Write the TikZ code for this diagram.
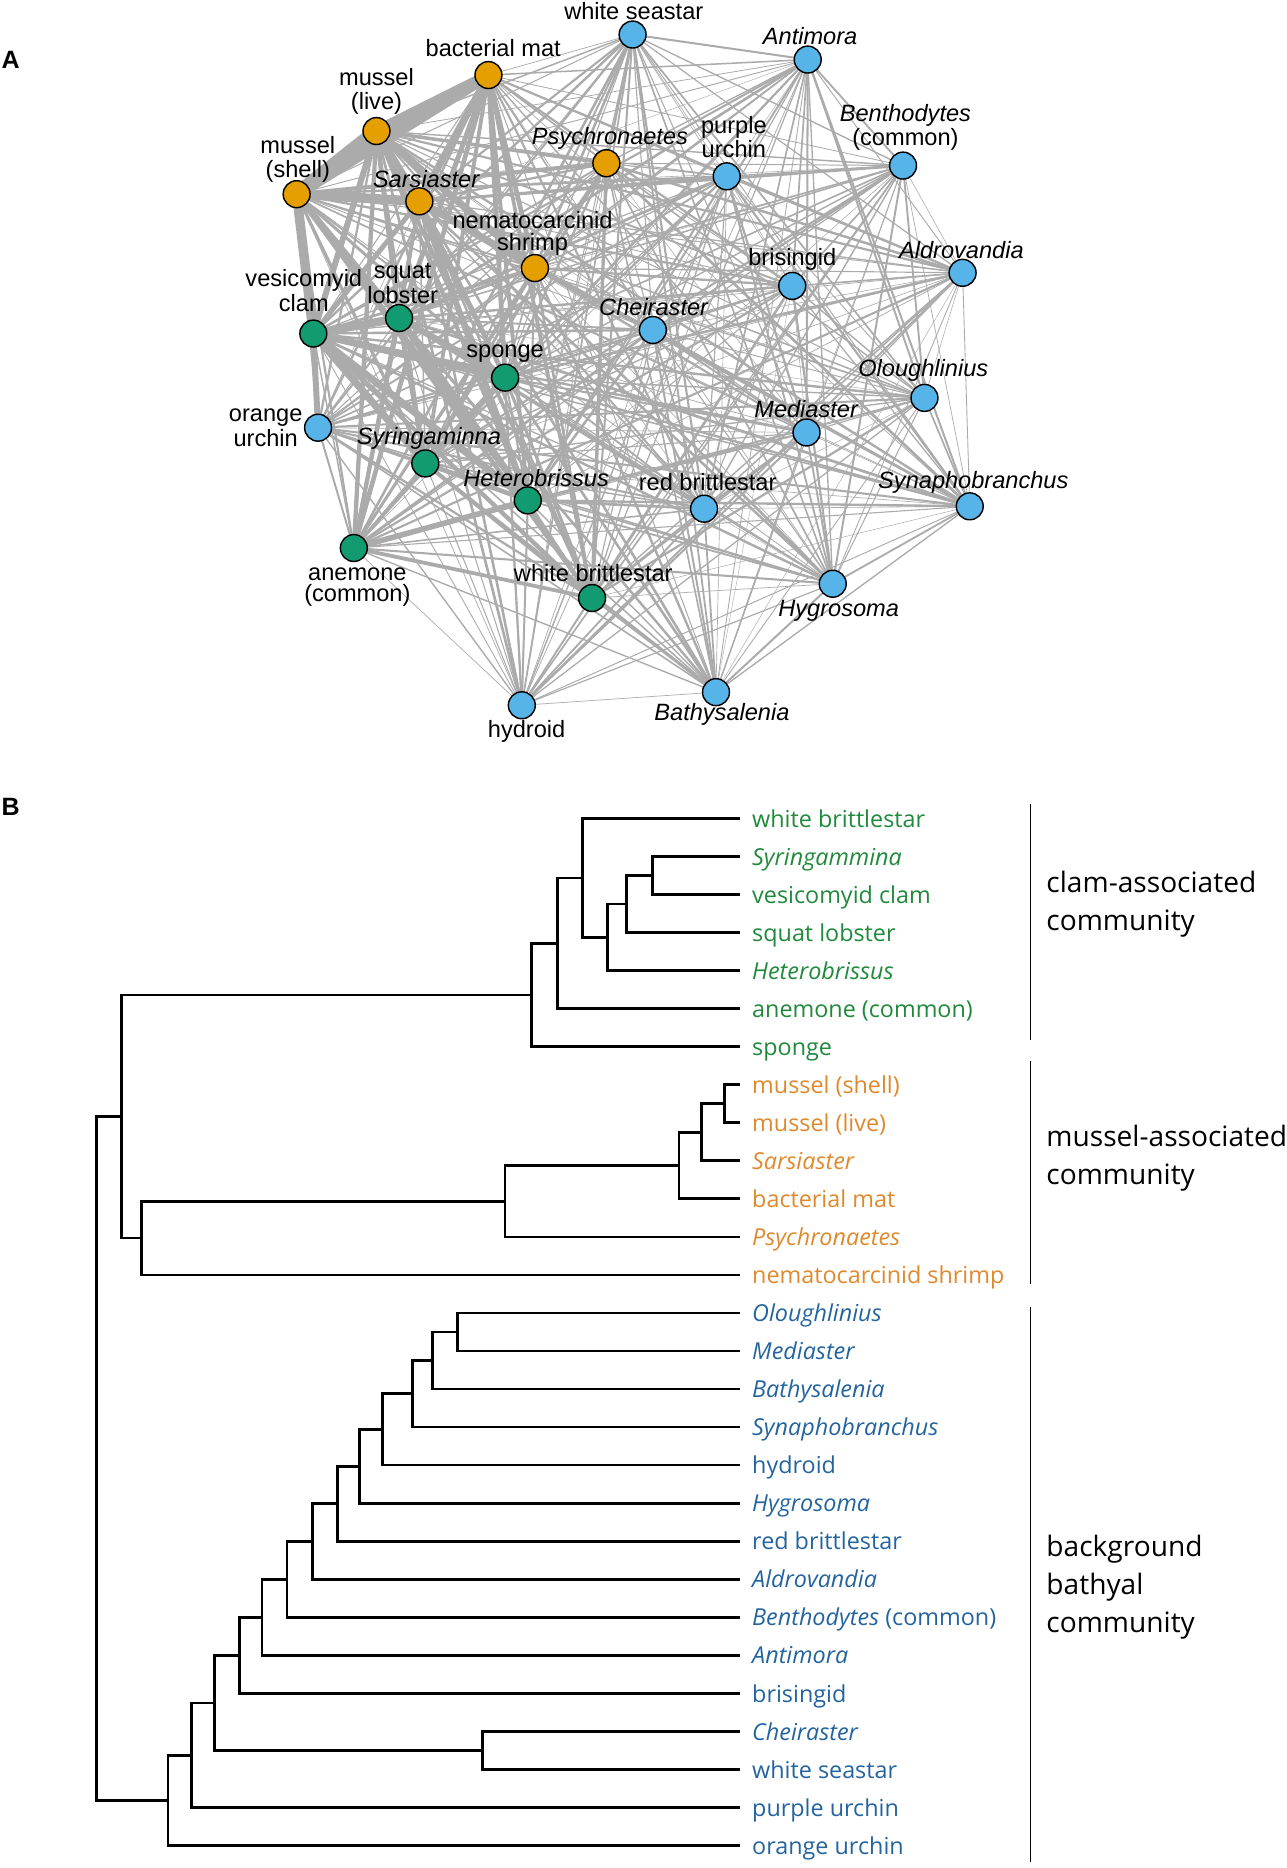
\documentclass[tikz,border=0pt]{standalone}
\usepackage{fontspec}
\setmainfont{Liberation Sans}
\newfontfamily\bfont{Open Sans}
\definecolor{norange}{HTML}{E69F00}
\definecolor{ngreen}{HTML}{129B70}
\definecolor{nblue}{HTML}{56B4E9}
\definecolor{edgegray}{HTML}{ABABAB}
\definecolor{tgreen}{HTML}{1F8A3B}
\definecolor{torange}{HTML}{E0892C}
\definecolor{tblue}{HTML}{23649F}
\pgfdeclarelayer{edges}
\pgfsetlayers{edges,main}
\begin{document}
\begin{tikzpicture}[x=0.5pt,y=-0.5pt,
  net/.style={circle,draw=black,line width=0.6pt,minimum size=11.3pt,inner sep=0pt},
  lab/.style={font=\fontsize{9.9}{9}\selectfont,align=center,inner sep=0pt},
  labw/.style={font=\fontsize{9.9}{10}\selectfont,align=center,inner sep=0pt},
  edge/.style={draw=edgegray},
  leaf/.style={font=\bfont\fontsize{9.8}{11}\selectfont,anchor=mid west,inner sep=0pt},
  tree/.style={line width=1.15pt},
  bar/.style={line width=0.8pt},
  comm/.style={font=\bfont\fontsize{11.8}{16}\selectfont,align=left,anchor=west,inner sep=0pt},
  panel/.style={font=\bfseries\fontsize{10.5}{12}\selectfont,inner sep=0pt}]
\useasboundingbox (0,0) rectangle (1080,1568);
\pgfmathsetseed{7}
% ---------------- Panel A ----------------
\node[panel] (pA) at (9,50) {A};
\foreach \k/\x/\y/\c in {1/249/163/norange,2/316/110/norange,3/352/169/norange,4/410/63/norange,
  5/509/137/norange,6/449/225/norange,
  7/497/502/ngreen,8/357/389/ngreen,9/263/280/ngreen,10/335/267/ngreen,11/443/420/ngreen,
  12/297/460/ngreen,13/424/317/ngreen,
  14/776/334/nblue,15/677/363/nblue,16/601/581/nblue,17/814/425/nblue,18/438/592/nblue,
  19/699/490/nblue,20/591/427/nblue,21/808/229/nblue,22/758/139/nblue,23/678/50/nblue,
  24/665/240/nblue,25/548/277/nblue,26/531/29/nblue,27/610/148/nblue,28/267/359/nblue}
  {\node[net,fill=\c] (n\k) at (\x,\y) {};}
\begin{pgfonlayer}{edges}
\foreach \i in {1,...,27}{
  \pgfmathtruncatemacro\ip{\i+1}
  \foreach \j in {\ip,...,28}{
    \pgfmathsetmacro\base{(\i<7)?((\j<7)?4:((\j<14)?2.5:1.5)):((\i<14)?((\j<14)?3.5:1.5):1.2)}
    \pgfmathsetmacro\w{0.5*\base*(0.25+1.3*rnd)}
    \draw[edge,line width=\w pt] (n\i.center) -- (n\j.center);
  }
}
\foreach \i/\j/\w in {1/2/12,1/4/10,2/4/9,1/3/8,2/3/6,3/4/5,1/9/8,9/10/7,9/13/6,9/11/6,
  9/8/6,10/11/5,3/11/5,2/10/4,4/10/4,9/28/5,1/10/5,2/9/5,3/9/4,4/13/4,10/8/4,1/11/4,3/13/4}
  {\draw[edge,line width=0.5*\w pt] (n\i.center) -- (n\j.center);}
\end{pgfonlayer}
\node[labw] (a1) at (250,134) {mussel\\(shell)};
\node[labw] (a2) at (316,77) {mussel\\(live)};
\node[lab] (a3) at (358,150) {\textit{Sarsiaster}};
\node[lab] (a4) at (414,40) {bacterial mat};
\node[lab] (a5) at (512,116) {\textit{Psychronaetes}};
\node[lab] (a6) at (447,196) {nematocarcinid\\shrimp};
\node[lab] (a7) at (498,481) {white brittlestar};
\node[lab] (a8) at (360,368) {\textit{Syringaminna}};
\node[lab] (a9) at (255,244) {vesicomyid\\clam};
\node[lab] (a10) at (338,238) {squat\\lobster};
\node[lab] (a11) at (450,401) {\textit{Heterobrissus}};
\node[lab] (a12) at (300,493) {anemone\\(common)};
\node[lab] (a13) at (424,297) {sponge};
\node[lab] (a14) at (775,311) {\textit{Oloughlinius}};
\node[lab] (a15) at (677,343) {\textit{Mediaster}};
\node[lab] (a16) at (606,600) {\textit{Bathysalenia}};
\node[lab] (a17) at (817,405) {\textit{Synaphobranchus}};
\node[lab] (a18) at (442,614) {hydroid};
\node[lab] (a19) at (704,513) {\textit{Hygrosoma}};
\node[lab] (a20) at (594,405) {red brittlestar};
\node[lab] (a21) at (807,210) {\textit{Aldrovandia}};
\node[lab] (a22) at (760,107) {\textit{Benthodytes}\\(common)};
\node[lab] (a23) at (680,30) {\textit{Antimora}};
\node[lab] (a24) at (665,218) {brisingid};
\node[lab] (a25) at (549,258) {\textit{Cheiraster}};
\node[lab] (a26) at (532,9) {white seastar};
\node[lab] (a27) at (616,115) {purple\\urchin};
\node[lab] (a28) at (223,359) {orange\\urchin};
% ---------------- Panel B ----------------
\node[panel] (pB) at (9,677) {B};
\foreach \k/\t/\c in {0/white brittlestar/tgreen,1/\textit{Syringammina}/tgreen,
  2/vesicomyid clam/tgreen,3/squat lobster/tgreen,4/\textit{Heterobrissus}/tgreen,
  5/anemone (common)/tgreen,6/sponge/tgreen,
  7/mussel (shell)/torange,8/mussel (live)/torange,9/\textit{Sarsiaster}/torange,
  10/bacterial mat/torange,11/\textit{Psychronaetes}/torange,12/nematocarcinid shrimp/torange,
  13/\textit{Oloughlinius}/tblue,14/\textit{Mediaster}/tblue,15/\textit{Bathysalenia}/tblue,
  16/\textit{Synaphobranchus}/tblue,17/hydroid/tblue,18/\textit{Hygrosoma}/tblue,
  19/red brittlestar/tblue,20/\textit{Aldrovandia}/tblue,21/\textit{Benthodytes} (common)/tblue,
  22/\textit{Antimora}/tblue,23/brisingid/tblue,24/\textit{Cheiraster}/tblue,
  25/white seastar/tblue,26/purple urchin/tblue,27/orange urchin/tblue}
{
  \pgfmathsetmacro\yy{687+31.93*\k}
  \pgfmathsetmacro\yt{\yy+2}
  \coordinate (L\k) at (621,\yy);
  \node[leaf,text=\c] (t\k) at (631,\yt) {\t};
}
% internal nodes
\coordinate (c1) at (548,734.9);
\coordinate (c2) at (526,758.85);
\coordinate (c3) at (510,786.8);
\coordinate (c4) at (489,736.9);
\coordinate (c5) at (468,791.8);
\coordinate (c6) at (446,835.2);
\coordinate (m1) at (608,926.45);
\coordinate (m2) at (589,950.4);
\coordinate (m3) at (570,978.35);
\coordinate (m4) at (424,1008.3);
\coordinate (m5) at (119,1039.25);
\coordinate (cm) at (102,937.2);
\coordinate (b1) at (384,1118.05);
\coordinate (b2) at (363,1142.0);
\coordinate (b3) at (346,1169.95);
\coordinate (b4) at (321,1199.9);
\coordinate (b5) at (302,1230.8);
\coordinate (b6) at (283,1262.25);
\coordinate (b7) at (262,1293.9);
\coordinate (b8) at (241,1325.7);
\coordinate (b9) at (220,1357.6);
\coordinate (b10) at (201,1389.5);
\coordinate (b11) at (405,1469.25);
\coordinate (b12) at (180,1429.4);
\coordinate (b13) at (161,1473.3);
\coordinate (b14) at (141,1511.2);
\coordinate (root) at (81,1224.2);
\foreach \a/\p/\b in {L1/c1/L2,c1/c2/L3,c2/c3/L4,L0/c4/c3,c4/c5/L5,c5/c6/L6,
  L7/m1/L8,m1/m2/L9,m2/m3/L10,m3/m4/L11,m4/m5/L12,c6/cm/m5,
  L13/b1/L14,b1/b2/L15,b2/b3/L16,b3/b4/L17,b4/b5/L18,b5/b6/L19,b6/b7/L20,b7/b8/L21,
  b8/b9/L22,b9/b10/L23,L24/b11/L25,b10/b12/b11,b12/b13/L26,b13/b14/L27,cm/root/b14}
  {\draw[tree] (\a) -| (\p) |- (\b);}
% community bars
\coordinate (k1a) at (865,675); \coordinate (k1b) at (865,873);
\coordinate (k2a) at (865,891); \coordinate (k2b) at (865,1078);
\coordinate (k3a) at (865,1097); \coordinate (k3b) at (865,1563);
\draw[bar] (k1a) -- (k1b);
\draw[bar] (k2a) -- (k2b);
\draw[bar] (k3a) -- (k3b);
\node[comm] (g1) at (878,759) {clam-associated\\community};
\node[comm] (g2) at (878,972) {mussel-associated\\community};
\node[comm] (g3) at (878,1332) {background\\bathyal\\community};
\end{tikzpicture}
\end{document}
